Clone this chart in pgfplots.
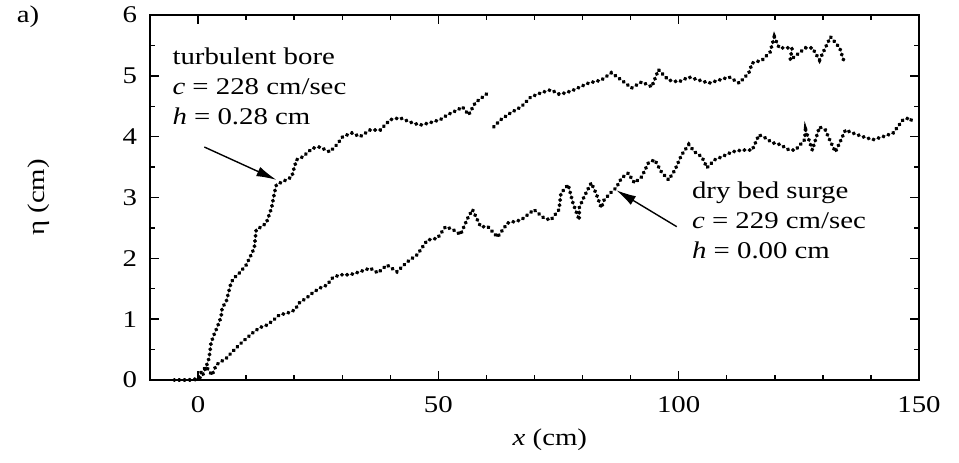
\documentclass[border=0pt]{standalone}
\usepackage{pgfplots}
\pgfplotsset{compat=1.18}
\usepackage{fontspec}
\setmainfont{Liberation Serif}[FakeStretch=1.2]
\usetikzlibrary{arrows.meta}

% digitised surge profiles
\pgfplotstableread{
x y
-5 0
-3 0
-1 0
0 0.02
0.8 0.05
1.7 0.22
2.3 0.36
2.7 0.61
3.3 0.74
4.0 0.87
4.8 1.04
5.0 1.18
5.9 1.30
6.9 1.61
7.8 1.70
8.6 1.76
10 1.89
11 2.05
11.7 2.17
12.1 2.47
13.2 2.52
14.2 2.58
15.3 2.83
15.9 3.08
16.3 3.21
17.6 3.26
18.6 3.30
19.5 3.34
20 3.49
20.5 3.62
21.8 3.67
23.8 3.81
25.3 3.83
27.4 3.75
28.9 3.87
30.1 4.00
32 4.06
33.7 4.00
35.8 4.11
37.9 4.11
40 4.28
42 4.31
44.1 4.24
46.2 4.19
48.3 4.23
50.4 4.28
51.9 4.36
54 4.44
55 4.49
56.3 4.36
57.7 4.56
59.2 4.65
60.3 4.72
}\boreA

\pgfplotstableread{
x y
61.5 4.16
63 4.28
65 4.39
67.2 4.49
69.2 4.65
71.3 4.72
73.4 4.77
75.1 4.70
76.5 4.72
78.2 4.77
81.2 4.88
83.9 4.93
86 5.05
88.1 4.93
90.2 4.80
92.3 4.90
94.4 4.82
95.8 5.10
97.9 4.93
100 4.90
102.1 4.98
104.2 4.93
106.3 4.88
108.4 4.93
110.5 4.98
112.6 4.88
114.6 5.05
115.3 5.21
117.4 5.26
119 5.39
119.9 5.64
120.9 5.46
123.6 5.46
123.2 5.26
126.4 5.46
127.8 5.46
129.3 5.26
130.5 5.46
131.6 5.64
133.5 5.46
134.5 5.21
}\boreB

\pgfplotstableread{
x y
-4 0
-2 0
0 0.02
0.6 0.12
1.7 0.22
2.9 0.08
3.8 0.25
5.9 0.36
7.1 0.46
8.6 0.58
10 0.68
11.3 0.77
12.8 0.86
14.2 0.90
15.5 0.97
16.9 1.07
18.6 1.10
20.1 1.15
21.1 1.27
22.6 1.35
23.8 1.43
25.3 1.51
26.8 1.56
28 1.68
29.5 1.73
31.6 1.73
33.7 1.78
35.8 1.84
37.4 1.76
39.3 1.89
41.4 1.78
43.5 1.94
45.6 2.06
47.7 2.30
49.8 2.33
51.5 2.52
53.1 2.47
54.6 2.39
56.1 2.66
57.1 2.80
58.8 2.52
60.3 2.52
62.3 2.35
64.4 2.58
67.2 2.63
69.9 2.80
72 2.66
73.4 2.63
75.1 2.80
75.5 3.07
77 3.21
78 2.91
79.3 2.63
79.3 2.83
80.3 3.01
81.8 3.24
82.8 3.07
83.9 2.83
84.5 2.96
86 3.09
87 3.16
88.1 3.32
89.5 3.40
90.8 3.24
92.3 3.34
93.7 3.57
95 3.62
96.4 3.42
97.9 3.29
99.2 3.45
100.6 3.70
102.1 3.87
103.3 3.75
104.8 3.67
105.9 3.49
107.5 3.62
109 3.67
111.1 3.75
113.2 3.78
115.3 3.78
116.7 4.03
118 3.98
119.5 3.90
121.1 3.87
123 3.78
124.3 3.78
126.2 3.95
126.4 4.11
127.8 3.78
129.3 4.16
130.5 4.11
131.4 3.95
132.6 3.75
133.5 3.90
134.7 4.11
136.2 4.06
138.3 4.00
140.4 3.95
142.5 4.00
144.6 4.06
146.7 4.28
148.1 4.31
148.7 4.23
}\dry

\tikzset{surge/.style={black, no markers, line width=1.9pt, line cap=round, dash pattern=on 0.3pt off 2.3pt}}

\begin{document}
\begin{tikzpicture}
\begin{axis}[
  scale only axis,
  width=384.5pt, height=182.5pt,
  xmin=-10, xmax=150, ymin=0, ymax=6,
  xtick={0,50,100,150}, minor x tick num=4,
  ytick={0,1,...,6}, minor y tick num=1,
  tick align=inside,
  major tick length=4.5pt, minor tick length=2.5pt,
  axis line style={line width=1pt},
  every tick/.style={black, line width=0.7pt},
  font=\fontsize{12pt}{13pt}\selectfont,
  /pgf/number format/assume math mode=true,
  xticklabel style={yshift=-4.5pt},
  yticklabel style={xshift=-3pt},
  xlabel={\textit{x} (cm)},
  ylabel={η (cm)},
  every axis x label/.style={at={(axis description cs:0.52,-0.165)}, anchor=center},
  every axis y label/.style={at={(axis description cs:-0.145,0.5)}, anchor=center, rotate=90},
  clip=false,
]
\addplot[surge] table[x=x,y=y] {\boreA};
\addplot[surge] table[x=x,y=y] {\boreB};
\addplot[surge] table[x=x,y=y] {\dry};

\node[anchor=north west, align=left, inner sep=0pt, font=\fontsize{12pt}{15pt}\selectfont]
  at (axis cs:-5.4,5.46) {turbulent bore\\\textit{c} = 228 cm/sec\\\textit{h} = 0.28 cm};
\draw[-{Latex[length=10pt,width=5pt]}, line width=0.7pt] (axis cs:1.3,3.83) -- (axis cs:16.3,3.29);

\node[anchor=north west, align=left, inner sep=0pt, font=\fontsize{12pt}{15pt}\selectfont]
  at (axis cs:102.7,3.26) {dry bed surge\\\textit{c} = 229 cm/sec\\\textit{h} = 0.00 cm};
\draw[-{Latex[length=10pt,width=5pt]}, line width=0.7pt] (axis cs:99.6,2.52) -- (axis cs:87,3.12);
\end{axis}
\node[font=\fontsize{12pt}{13pt}\selectfont] at ([xshift=-61pt,yshift=-1pt]current axis.north west) {a)};
\pgfresetboundingbox
\path[use as bounding box] ([xshift=-75pt,yshift=-41.5pt]current axis.south west) rectangle ([xshift=20pt,yshift=7.5pt]current axis.north east);
\end{tikzpicture}
\end{document}
